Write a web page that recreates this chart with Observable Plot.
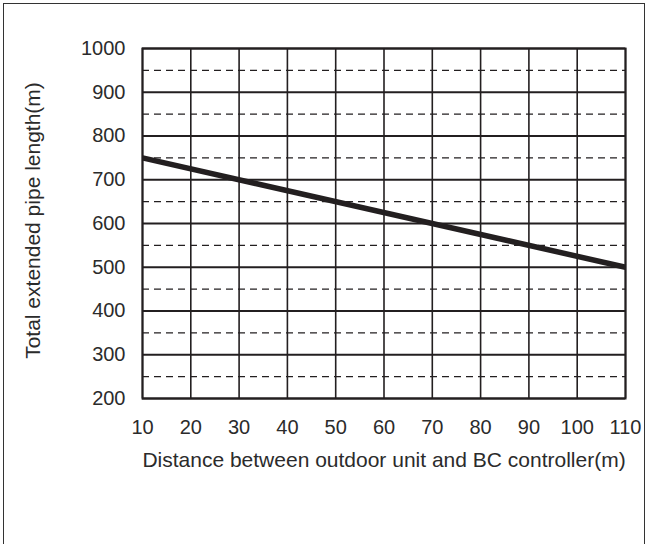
<!DOCTYPE html>
<html>
<head>
<meta charset="utf-8">
<script src="https://cdn.jsdelivr.net/npm/d3@7"></script>
<script src="https://cdn.jsdelivr.net/npm/@observablehq/plot@0.6"></script>
<style>
  html, body { margin: 0; padding: 0; background: #fff; }
  #wrap { position: relative; width: 649px; height: 544px; overflow: hidden; }
  #border { position: absolute; left: 3px; top: 3px; width: 642px; height: 560px; border: 1.5px solid #333; box-sizing: border-box; }
  #chart { position: absolute; left: 0; top: 0; }
</style>
</head>
<body>
<div id="wrap"><div id="border"></div><div id="chart"></div></div>
<script>
const distance = [10, 110];
const pipeLength = [750, 500];
const xTicks = [10, 20, 30, 40, 50, 60, 70, 80, 90, 100, 110];
const yTicks = [200, 300, 400, 500, 600, 700, 800, 900, 1000];
const yDashed = [250, 350, 450, 550, 650, 750, 850, 950];
const xTitle = "Distance between outdoor unit and BC controller(m)";
const yTitle = "Total extended pipe length(m)";

const data = distance.map((d, i) => ({x: d, y: pipeLength[i]}));
const ink = "#231f20";
const textInk = "#2b2b2b";

const chart = Plot.plot({
  width: 649,
  height: 544,
  marginLeft: 142,
  marginRight: 24,
  marginTop: 48,
  marginBottom: 146,
  style: {fontFamily: "'Liberation Sans', Arial, sans-serif", fontSize: "20px", color: textInk, background: "transparent"},
  x: {domain: [10, 110]},
  y: {domain: [200, 1000]},
  marks: [
    Plot.gridY(yDashed, {stroke: ink, strokeOpacity: 1, strokeWidth: 1.2, strokeDasharray: "7,5"}),
    Plot.gridY(yTicks, {stroke: ink, strokeOpacity: 1, strokeWidth: 1.8}),
    Plot.gridX(xTicks, {stroke: ink, strokeOpacity: 1, strokeWidth: 1.6}),
    Plot.frame({stroke: ink, strokeWidth: 2}),
    Plot.axisX(xTicks, {tickSize: 0, tickPadding: 21, label: null, fill: textInk, fontSize: 20, tickFormat: d => String(d)}),
    Plot.axisY(yTicks, {tickSize: 0, tickPadding: 17, label: null, fill: textInk, fontSize: 20, tickFormat: d => String(d)}),
    Plot.line(data, {x: "x", y: "y", stroke: ink, strokeWidth: 5.5, strokeLinecap: "butt"}),
    Plot.text([xTitle], {frameAnchor: "bottom", dy: 68, fill: textInk, fontSize: 21, textAnchor: "middle"}),
    Plot.text([yTitle], {frameAnchor: "left", dx: -109, dy: -3, rotate: -90, fill: textInk, fontSize: 21, textAnchor: "middle"})
  ]
});
document.getElementById("chart").appendChild(chart);
</script>
</body>
</html>
